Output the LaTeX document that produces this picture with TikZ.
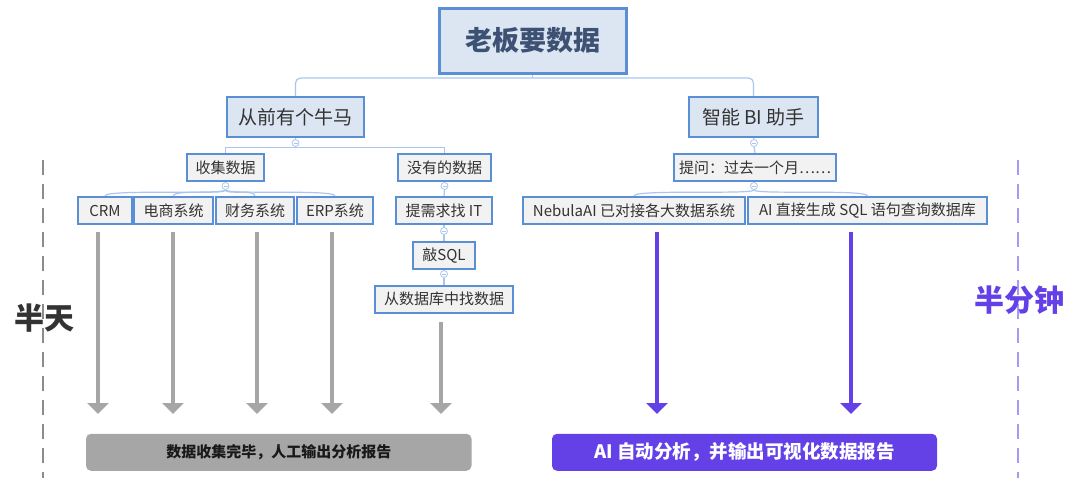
\documentclass[tikz,border=0pt]{standalone}
\usepackage{fontspec}
\setmainfont{Noto Sans CJK SC}
\usetikzlibrary{arrows.meta,calc,backgrounds}
\definecolor{boxblue}{HTML}{5B8FD5}
\definecolor{fillblue}{HTML}{DCE6F2}
\definecolor{fillgrey}{HTML}{F2F2F2}
\definecolor{connblue}{HTML}{A9C6EE}
\definecolor{txt}{HTML}{333333}
\definecolor{titletxt}{HTML}{3D5174}
\definecolor{arrgrey}{HTML}{A6A6A6}
\definecolor{purp}{HTML}{6441E6}
\definecolor{lpurp}{HTML}{A999F2}
\definecolor{dashgrey}{HTML}{8C8C8C}
\begin{document}
\begin{tikzpicture}[x=1pt,y=-1pt,
 box/.style={draw=boxblue, line width=2pt, fill=fillgrey, inner sep=0pt, text=txt, font=\fontsize{15}{17}\selectfont, minimum height=27pt},
 topbox/.style={box, fill=fillblue, minimum height=40pt, font=\fontsize{19}{21}\selectfont},
 rootbox/.style={box, fill=fillblue, line width=3pt, minimum height=65pt, minimum width=187pt, text=titletxt, font=\fontsize{27}{30}\selectfont\bfseries},
 conn/.style={draw=connblue, line width=1.2pt},
 knob/.style={circle, draw=connblue, fill=white, line width=0.8pt, minimum size=7pt, inner sep=0pt, path picture={\draw[connblue,line width=0.6pt] ([xshift=-2pt]path picture bounding box.center) -- ([xshift=2pt]path picture bounding box.center);}},
 grayarrow/.style={draw=arrgrey, line width=4pt, -{Triangle[width=21pt,length=11pt]}},
 purparrow/.style={draw=purp, line width=4pt, -{Triangle[width=21pt,length=11pt]}},
 bar/.style={rounded corners=5pt, inner sep=0pt, minimum height=37pt, font=\fontsize{15}{17}\selectfont\bfseries},
 divider/.style={dash pattern=on 15pt off 9pt, line width=1.3pt},
 big/.style={font=\fontsize{30}{32}\selectfont\bfseries}
]
\useasboundingbox (0,0) rectangle (1080,490);

% dividers
\draw[divider, dashgrey] (43,160) -- (43,478);
\draw[divider, lpurp] (1018,160) -- (1018,478);
\node[big, text=txt] (bantian) at (44,318) {半天};
\node[big, text=purp] (banfen) at (1019,300) {半分钟};

% nodes
\node[rootbox] (root) at (532.5,40.5) {老板要数据};
\node[topbox, minimum width=137pt] (l1) at (295.5,117) {从前有个牛马};
\node[topbox, minimum width=129pt] (r1) at (753.5,117) {智能 BI 助手};

\node[box, minimum width=77pt] (sj) at (225.5,167.5) {收集数据};
\node[box, minimum width=93pt] (my) at (444.5,167.5) {没有的数据};
\node[box, minimum width=54pt] (crm) at (105,210.5) {CRM};
\node[box, minimum width=79pt] (ds) at (173.5,210.5) {电商系统};
\node[box, minimum width=78pt] (cw) at (255,210.5) {财务系统};
\node[box, minimum width=76pt] (erp) at (335,210.5) {ERP系统};
\node[box, minimum width=96pt] (xq) at (444,210.5) {提需求找 IT};
\node[box, minimum width=62pt] (sql) at (444,255.5) {敲SQL};
\node[box, minimum width=138pt] (zsj) at (444,299) {从数据库中找数据};

\node[box, minimum width=162pt] (tw) at (755,167.5) {提问：过去一个月……};
\node[box, minimum width=222pt] (neb) at (634,210.5) {NebulaAI 已对接各大数据系统};
\node[box, minimum width=239pt] (aisql) at (867.5,210.5) {AI 直接生成 SQL 语句查询数据库};

% knobs
\node[knob] (k1) at (295.5,143) {};
\node[knob] (k2) at (225.5,186) {};
\node[knob] (k3) at (444.5,186) {};
\node[knob] (k4) at (444,231) {};
\node[knob] (k5) at (444,274) {};
\node[knob] (k6) at (754,143) {};
\node[knob] (k7) at (754,186) {};

% connectors (behind the boxes and knobs)
\coordinate (j0) at (532.5,78);
\coordinate (j1) at (295.5,147.5);
\begin{scope}[on background layer]
\draw[conn] (root.south) -- (j0);
\draw[conn, rounded corners=5pt] (l1.north) |- (j0) -| (r1.north);
\draw[conn] (l1.south) -- (k1.north);
\draw[conn] (k1.south) -- (j1);
\draw[conn] (sj.north) |- (j1) -| (my.north);
\draw[conn] (my.south) -- (k3.north);
\draw[conn] (k3.south) -- (xq.north);
\draw[conn] (xq.south) -- (k4.north);
\draw[conn] (k4.south) -- (sql.north);
\draw[conn] (sql.south) -- (k5.north);
\draw[conn] (k5.south) -- (zsj.north);
\draw[conn] (sj.south) -- (k2.north);
\foreach \n in {crm,ds,cw,erp}
  \draw[conn] (k2.south) .. controls ($(k2.south)+(0,5)$) and ($(\n.north)+(0,-7)$) .. (\n.north);
\draw[conn] (r1.south) -- (k6.north);
\draw[conn] (k6.south) -- (tw.north);
\draw[conn] (tw.south) -- (k7.north);
\foreach \n in {neb,aisql}
  \draw[conn] (k7.south) .. controls ($(k7.south)+(0,5)$) and ($(\n.north)+(0,-7)$) .. (\n.north);
\end{scope}

% bars
\node[bar, fill=arrgrey, minimum width=385.5pt, text=black!90] (gbar) at (278.75,452.3) {数据收集完毕，人工输出分析报告};
\node[bar, fill=purp, minimum width=385pt, text=white, font=\fontsize{18.5}{20}\selectfont\bfseries] (pbar) at (744.5,452.3) {AI 自动分析，并输出可视化数据报告};

% arrows
\coordinate (ga1) at (98,414);
\coordinate (ga2) at (173,414);
\coordinate (ga3) at (257,414);
\coordinate (ga4) at (332,414);
\coordinate (ga5) at (441,414);
\draw[grayarrow] (crm.south -| ga1) ++(0,7) -- (ga1);
\draw[grayarrow] (ds.south -| ga2) ++(0,7) -- (ga2);
\draw[grayarrow] (cw.south -| ga3) ++(0,7) -- (ga3);
\draw[grayarrow] (erp.south -| ga4) ++(0,7) -- (ga4);
\draw[grayarrow] (zsj.south -| ga5) ++(0,8) -- (ga5);
\coordinate (pa1) at (657,414);
\coordinate (pa2) at (851,414);
\draw[purparrow] (neb.south -| pa1) ++(0,7) -- (pa1);
\draw[purparrow] (aisql.south -| pa2) ++(0,7) -- (pa2);
\end{tikzpicture}
\end{document}
